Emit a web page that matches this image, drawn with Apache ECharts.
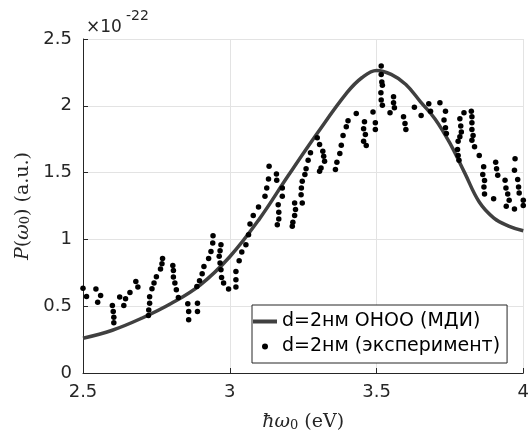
<!DOCTYPE html>
<html>
<head>
<meta charset="utf-8">
<script src="https://cdn.jsdelivr.net/npm/echarts@6/dist/echarts.min.js"></script>
<style>
html,body{margin:0;padding:0;background:#fff;}
#chart{width:532px;height:438px;}
</style>
</head>
<body>
<div id="chart"></div>
<script>
// Theory curve (ОНОО / МДИ)
var curveE = [2.5, 2.6, 2.7, 2.8, 2.9, 3.0, 3.1, 3.2, 3.3, 3.4, 3.45, 3.5, 3.55, 3.6, 3.65, 3.7, 3.75, 3.8, 3.85, 3.9, 3.95, 4.0];
var curveP = [0.26, 0.32, 0.41, 0.52, 0.66, 0.87, 1.15, 1.48, 1.80, 2.10, 2.21, 2.265, 2.235, 2.16, 2.03, 1.90, 1.72, 1.50, 1.28, 1.16, 1.10, 1.065];

// Experiment dots
var expE = [2.500, 2.512, 2.544, 2.550, 2.560, 2.600, 2.603, 2.605, 2.605, 2.625, 2.639, 2.645, 2.660, 2.680, 2.687,
  2.723, 2.724, 2.727, 2.727, 2.735, 2.742, 2.750, 2.764, 2.769, 2.771, 2.806, 2.808, 2.808, 2.813, 2.818, 2.825,
  2.857, 2.860, 2.860, 2.888, 2.890, 2.890, 2.897, 2.906, 2.912, 2.928, 2.936, 2.942, 2.943, 2.964, 2.967, 2.967,
  2.970, 2.970, 2.972, 2.979, 2.996, 3.021, 3.021, 3.021, 3.032, 3.041, 3.055, 3.064, 3.069, 3.080, 3.098, 3.120,
  3.126, 3.132, 3.134, 3.159, 3.160, 3.162, 3.165, 3.167, 3.167, 3.179, 3.179,
  3.213, 3.215, 3.221, 3.224, 3.221, 3.247, 3.243, 3.244, 3.247, 3.256, 3.260, 3.267, 3.275, 3.298, 3.306, 3.317,
  3.320, 3.323, 3.311, 3.306, 3.360, 3.365, 3.375, 3.380, 3.386, 3.397, 3.403, 3.431, 3.459, 3.456, 3.462, 3.456,
  3.465, 3.488, 3.496, 3.496, 3.516, 3.516, 3.518, 3.520, 3.515, 3.516, 3.520, 3.546, 3.558, 3.558, 3.561, 3.592,
  3.597, 3.600,
  3.629, 3.652, 3.678, 3.684, 3.716, 3.735, 3.730, 3.735, 3.738, 3.776, 3.778, 3.781, 3.778, 3.784, 3.789, 3.787,
  3.784, 3.798, 3.823, 3.825, 3.825, 3.825, 3.829, 3.825, 3.834, 3.850, 3.865, 3.862, 3.868, 3.866, 3.868, 3.899,
  3.906, 3.909, 3.913, 3.938, 3.941, 3.947, 3.952, 3.942, 3.970, 3.972, 3.970, 3.981, 3.984, 3.986, 4.000, 4.000];
var expP = [0.635, 0.572, 0.628, 0.530, 0.580, 0.505, 0.460, 0.418, 0.377, 0.568, 0.505, 0.555, 0.602, 0.685, 0.643,
  0.430, 0.472, 0.523, 0.570, 0.630, 0.673, 0.720, 0.778, 0.818, 0.857, 0.805, 0.768, 0.718, 0.673, 0.623, 0.565,
  0.518, 0.460, 0.398, 0.647, 0.523, 0.460, 0.690, 0.743, 0.797, 0.857, 0.910, 0.973, 1.028, 0.873, 0.823, 0.915,
  0.960, 0.773, 0.715, 0.673, 0.628, 0.643, 0.698, 0.760, 0.840, 0.905, 0.960, 1.035, 1.115, 1.178, 1.243, 1.323,
  1.385, 1.453, 1.548, 1.490, 1.443, 1.110, 1.260, 1.203, 1.153, 1.385, 1.323,
  1.098, 1.128, 1.178, 1.223, 1.273, 1.273, 1.335, 1.385, 1.435, 1.485, 1.528, 1.593, 1.648, 1.760, 1.710, 1.660,
  1.623, 1.585, 1.535, 1.510, 1.523, 1.578, 1.643, 1.705, 1.778, 1.843, 1.888, 1.943, 1.880, 1.828, 1.785, 1.735,
  1.703, 1.953, 1.873, 1.823, 2.298, 2.235, 2.178, 2.153, 2.098, 2.043, 2.005, 1.948, 2.068, 2.023, 1.985, 1.918,
  1.868, 1.823,
  1.990, 1.928, 2.015, 1.960, 2.023, 1.960, 1.893, 1.835, 1.793, 1.673, 1.628, 1.593, 1.735, 1.768, 1.803, 1.848,
  1.903, 1.948, 1.960, 1.918, 1.873, 1.823, 1.778, 1.743, 1.693, 1.628, 1.543, 1.485, 1.440, 1.393, 1.340, 1.305,
  1.578, 1.528, 1.480, 1.443, 1.385, 1.340, 1.293, 1.248, 1.228, 1.603, 1.518, 1.448, 1.393, 1.348, 1.293, 1.253];

var xTicks = [2.5, 3, 3.5, 4];
var yTicks = [0, 0.5, 1, 1.5, 2, 2.5];
var seriesNames = ['d=2нм ОНОО (МДИ)', 'd=2нм (эксперимент)'];
var exponentBase = '×10';
var exponentPow = '-22';

var chart = echarts.init(document.getElementById('chart'), null, {renderer: 'canvas'});

var curveData = curveE.map(function (e, i) { return [e, curveP[i]]; });
var expData = expE.map(function (e, i) { return [e, expP[i]]; });

var serif = 'DejaVu Serif';
var sans = 'DejaVu Sans';
var axisColor = '#262626';

var option = {
  animation: false,
  backgroundColor: '#fff',
  grid: {left: 83, right: 6, top: 39, bottom: 65, containLabel: false},
  xAxis: {
    type: 'value',
    min: xTicks[0], max: xTicks[xTicks.length - 1], interval: 0.5,
    axisLine: {show: true, onZero: false, lineStyle: {color: axisColor, width: 1}},
    axisTick: {show: true, inside: true, length: 5, lineStyle: {color: axisColor}},
    axisLabel: {color: axisColor, fontFamily: sans, fontSize: 18, margin: 10},
    splitLine: {show: true, lineStyle: {color: '#e3e3e3', width: 1}},
    name: '{i|ħω}{s|0}{r| (eV)}',
    nameLocation: 'middle',
    nameGap: 33,
    nameTextStyle: {
      color: axisColor,
      rich: {
        i: {fontFamily: serif, fontStyle: 'italic', fontSize: 19, lineHeight: 26, verticalAlign: 'bottom', color: axisColor},
        r: {fontFamily: serif, fontSize: 19, lineHeight: 26, verticalAlign: 'bottom', color: axisColor},
        s: {fontFamily: serif, fontSize: 13, lineHeight: 14, verticalAlign: 'bottom', color: axisColor}
      }
    }
  },
  yAxis: {
    type: 'value',
    min: yTicks[0], max: yTicks[yTicks.length - 1], interval: 0.5,
    axisLine: {show: true, onZero: false, lineStyle: {color: axisColor, width: 1}},
    axisTick: {show: true, inside: true, length: 5, lineStyle: {color: axisColor}},
    axisLabel: {color: axisColor, fontFamily: sans, fontSize: 18, margin: 11},
    splitLine: {show: true, lineStyle: {color: '#e3e3e3', width: 1}},
    name: '{i|P}{r|(}{i|ω}{s|0}{r|) (a.u.)}',
    nameLocation: 'middle',
    nameGap: 48,
    nameTextStyle: {
      color: axisColor,
      rich: {
        i: {fontFamily: serif, fontStyle: 'italic', fontSize: 19, lineHeight: 26, verticalAlign: 'bottom', color: axisColor},
        r: {fontFamily: serif, fontSize: 19, lineHeight: 26, verticalAlign: 'bottom', color: axisColor},
        s: {fontFamily: serif, fontSize: 13, lineHeight: 14, verticalAlign: 'bottom', color: axisColor}
      }
    }
  },
  legend: {
    orient: 'vertical',
    left: 252, top: 305,
    data: [
      {name: seriesNames[0], icon: 'path://M0,0L24,0L24,4L0,4Z', itemStyle: {color: '#404040'}},
      {name: seriesNames[1], icon: 'circle', itemStyle: {color: '#000'}}
    ],
    itemWidth: 24, itemHeight: 6, itemGap: 6,
    padding: [7, 7, 7, 1],
    borderColor: axisColor, borderWidth: 1,
    backgroundColor: '#fff',
    textStyle: {fontFamily: sans, fontSize: 19, color: '#000'}
  },
  graphic: [
    {
      type: 'text', left: 86, top: 19,
      style: {text: exponentBase, font: '17px "DejaVu Sans"', fill: axisColor}
    },
    {
      type: 'text', left: 126, top: 9,
      style: {text: exponentPow, font: '14px "DejaVu Sans"', fill: axisColor}
    }
  ],
  series: [
    {
      name: seriesNames[0], type: 'line', data: curveData, smooth: 0.4,
      symbol: 'none', showSymbol: false,
      lineStyle: {color: '#404040', width: 3.5},
      itemStyle: {color: '#404040'},
      z: 2
    },
    {
      name: seriesNames[1], type: 'scatter', data: expData,
      symbol: 'circle', symbolSize: 5.5,
      itemStyle: {color: '#000', opacity: 1},
      z: 3
    }
  ]
};
chart.setOption(option);
</script>
</body>
</html>
